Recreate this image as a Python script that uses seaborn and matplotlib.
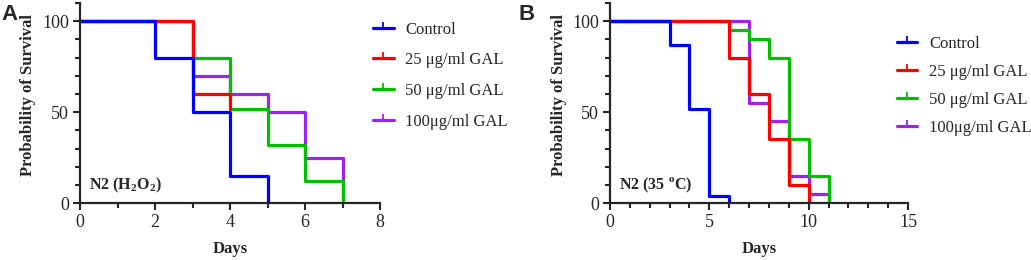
import matplotlib
matplotlib.use('Agg')
import matplotlib.pyplot as plt
import pandas as pd
import seaborn as sns
from matplotlib.lines import Line2D
from matplotlib.ticker import MultipleLocator

GROUPS = ['Control', '25 μg/ml GAL', '50 μg/ml GAL', '100μg/ml GAL']
COLORS = ['#0000FF', '#FF0000', '#00C000', '#A020F0']

# panel A: N2 (H2O2) -- step curves, day of change and survival (%)
a_control_days = [0, 2, 3, 4, 5]
a_control_surv = [100, 80, 50, 15, 0]
a_25_days = [0, 3, 4]
a_25_surv = [100, 60, 52]
a_50_days = [0, 3, 4, 5, 6, 7]
a_50_surv = [100, 80, 52, 32, 12, 0]
a_100_days = [0, 3, 4, 5, 6, 7]
a_100_surv = [100, 70, 60, 50, 25, 0]

# panel B: N2 (35 oC)
b_control_days = [0, 3, 4, 5, 6]
b_control_surv = [100, 87, 52, 4, 0]
b_25_days = [0, 6, 7, 8, 9, 10]
b_25_surv = [100, 80, 60, 35, 10, 0]
b_50_days = [0, 6, 7, 8, 9, 10, 11]
b_50_surv = [100, 95, 90, 80, 35, 15, 0]
b_100_days = [0, 7, 8, 9, 10, 11]
b_100_surv = [100, 55, 45, 15, 5, 0]


def make_df(series):
    rows = []
    for name, (days, surv) in zip(GROUPS, series):
        for d, s in zip(days, surv):
            rows.append({'Days': d, 'Survival': s, 'Group': name})
    return pd.DataFrame(rows)


df_a = make_df([(a_control_days, a_control_surv), (a_25_days, a_25_surv),
                (a_50_days, a_50_surv), (a_100_days, a_100_surv)])
df_b = make_df([(b_control_days, b_control_surv), (b_25_days, b_25_surv),
                (b_50_days, b_50_surv), (b_100_days, b_100_surv)])

sns.set_style('ticks')
plt.rcParams['font.family'] = ['Liberation Serif', 'DejaVu Serif']
plt.rcParams['mathtext.fontset'] = 'custom'
plt.rcParams['mathtext.rm'] = 'Liberation Serif:bold'
plt.rcParams['mathtext.bf'] = 'Liberation Serif:bold'

fig = plt.figure(figsize=(10.31, 2.6), dpi=100)
ax_a = fig.add_axes([0.0776, 0.219, 0.291, 0.769])
ax_b = fig.add_axes([0.5917, 0.219, 0.289, 0.769])

palette = dict(zip(GROUPS, COLORS))


def draw_panel(ax, df, xmax, xmajor, note, legend_xy, spacing):
    # Prism draws the last data set first, so reverse the order
    for name in GROUPS[::-1]:
        sub = df[df.Group == name]
        sns.lineplot(data=sub, x='Days', y='Survival', color=palette[name],
                     drawstyle='steps-post', linewidth=2.3, estimator=None,
                     ax=ax, legend=False)
    ax.set_xlim(0, xmax)
    ax.set_ylim(0, 110)
    ax.xaxis.set_major_locator(MultipleLocator(xmajor))
    ax.xaxis.set_minor_locator(MultipleLocator(1))
    ax.yaxis.set_major_locator(MultipleLocator(50))
    ax.yaxis.set_minor_locator(MultipleLocator(10))
    ax.tick_params(which='major', length=5, width=1.5, labelsize=13,
                   direction='out', pad=3)
    ax.tick_params(which='minor', length=3.5, width=1.5, direction='out')
    for s in ['left', 'bottom']:
        ax.spines[s].set_linewidth(1.6)
    sns.despine(ax=ax)
    ax.set_xlabel('Days', fontweight='bold', fontsize=12, labelpad=7)
    ax.set_ylabel('Probability of Survival', fontweight='bold', fontsize=12,
                  labelpad=4)
    ax.yaxis.label.set_y(0.54)
    ax.text(0.03, 0.07, note, transform=ax.transAxes, fontweight='bold',
            fontsize=11.5)

    handles = [Line2D([], [], color=c, lw=2.3, marker=2, markersize=4,
                      markeredgewidth=1.3) for c in COLORS]
    ax.legend(handles, GROUPS, loc='upper left', bbox_to_anchor=legend_xy,
              bbox_transform=fig.transFigure, frameon=False, fontsize=12,
              handlelength=1.25, handletextpad=0.7, labelspacing=spacing)


draw_panel(ax_a, df_a, 8, 2, r'N2 (H$_\mathbf{2}$O$_\mathbf{2}$)',
           (0.347, 0.975), 0.89)
draw_panel(ax_b, df_b, 15, 5, r'N2 (35 $^\mathbf{o}$C)',
           (0.855, 0.92), 0.73)

fig.text(0.001, 0.985, 'A', fontsize=16, fontweight='bold',
         family='Liberation Sans', va='top')
fig.text(0.503, 0.985, 'B', fontsize=16, fontweight='bold',
         family='Liberation Sans', va='top')

fig.savefig('out.png', dpi=100)
